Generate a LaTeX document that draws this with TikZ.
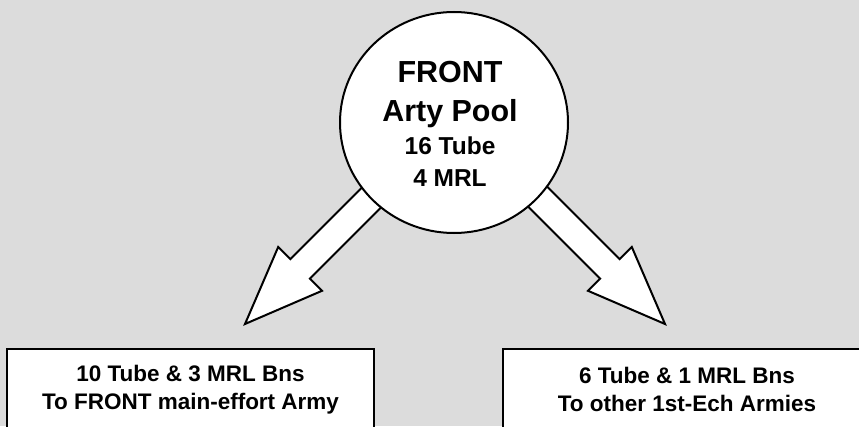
\documentclass[tikz,border=0pt]{standalone}
\usepackage{fontspec}
\setmainfont{Liberation Sans}
\usetikzlibrary{shapes.geometric}
\definecolor{poolgray}{HTML}{DCDCDC}
\tikzset{
  pool/.style={ellipse, draw=black, fill=white, line width=0.6mm, inner sep=0pt, minimum width=6.84cm, minimum height=6.63cm},
  pooltitle/.style={anchor=base, font=\bfseries\fontsize{26pt}{31pt}\selectfont},
  poolcount/.style={anchor=base, font=\bfseries\fontsize{20.9pt}{25pt}\selectfont},
  allotbox/.style={draw=black, fill=white, line width=0.6mm, inner sep=0pt, align=center, minimum height=2.46cm, font=\bfseries\fontsize{19.2pt}{23.9pt}\selectfont},
  fatarrow/.style={draw=black, fill=white, line width=0.6mm, line join=miter}
}
% hollow block arrow: #1 = tip, #2 = heading
\newcommand{\blockarrow}[2]{%
  \begin{scope}[shift={(#1)}, rotate=#2]
    \draw[fatarrow] (0,0) -- (-7.8,3.1) -- (-7.8,1.38) -- (-20,1.38)
      -- (-20,-1.38) -- (-7.8,-1.38) -- (-7.8,-3.1) -- cycle;
  \end{scope}}

\begin{document}
\begin{tikzpicture}[x=3mm, y=3mm]
  \path[use as bounding box, clip] (0,0) rectangle (85.9,42.6);
  \fill[poolgray] (0,0) rectangle (85.9,42.6);
  % split arrows, tails hidden under the pool
  \coordinate (lefttip) at (24.5,10.2);
  \coordinate (righttip) at (66.5,10.2);
  \blockarrow{lefttip}{225}
  \blockarrow{righttip}{-45}
  % the pool
  \node[pool] (pool) at (45.4,30.35) {};
  \node[pooltitle] (front) at (45,34.3) {FRONT};
  \node[pooltitle] (arty) at (45,30.4) {Arty Pool};
  \node[poolcount] (tubes) at (45,27.1) {16 Tube};
  \node[poolcount] (mrls) at (45,23.9) {4 MRL};
  % allotments
  \node[allotbox, minimum width=11.01cm] (mainarmy) at (19.05,3.65) {10 Tube \& 3 MRL Bns\\To FRONT main-effort Army};
  \node[allotbox, minimum width=11.04cm] (otherarmies) at (68.7,3.65) {6 Tube \& 1 MRL Bns\\To other 1st-Ech Armies};
\end{tikzpicture}
\end{document}
